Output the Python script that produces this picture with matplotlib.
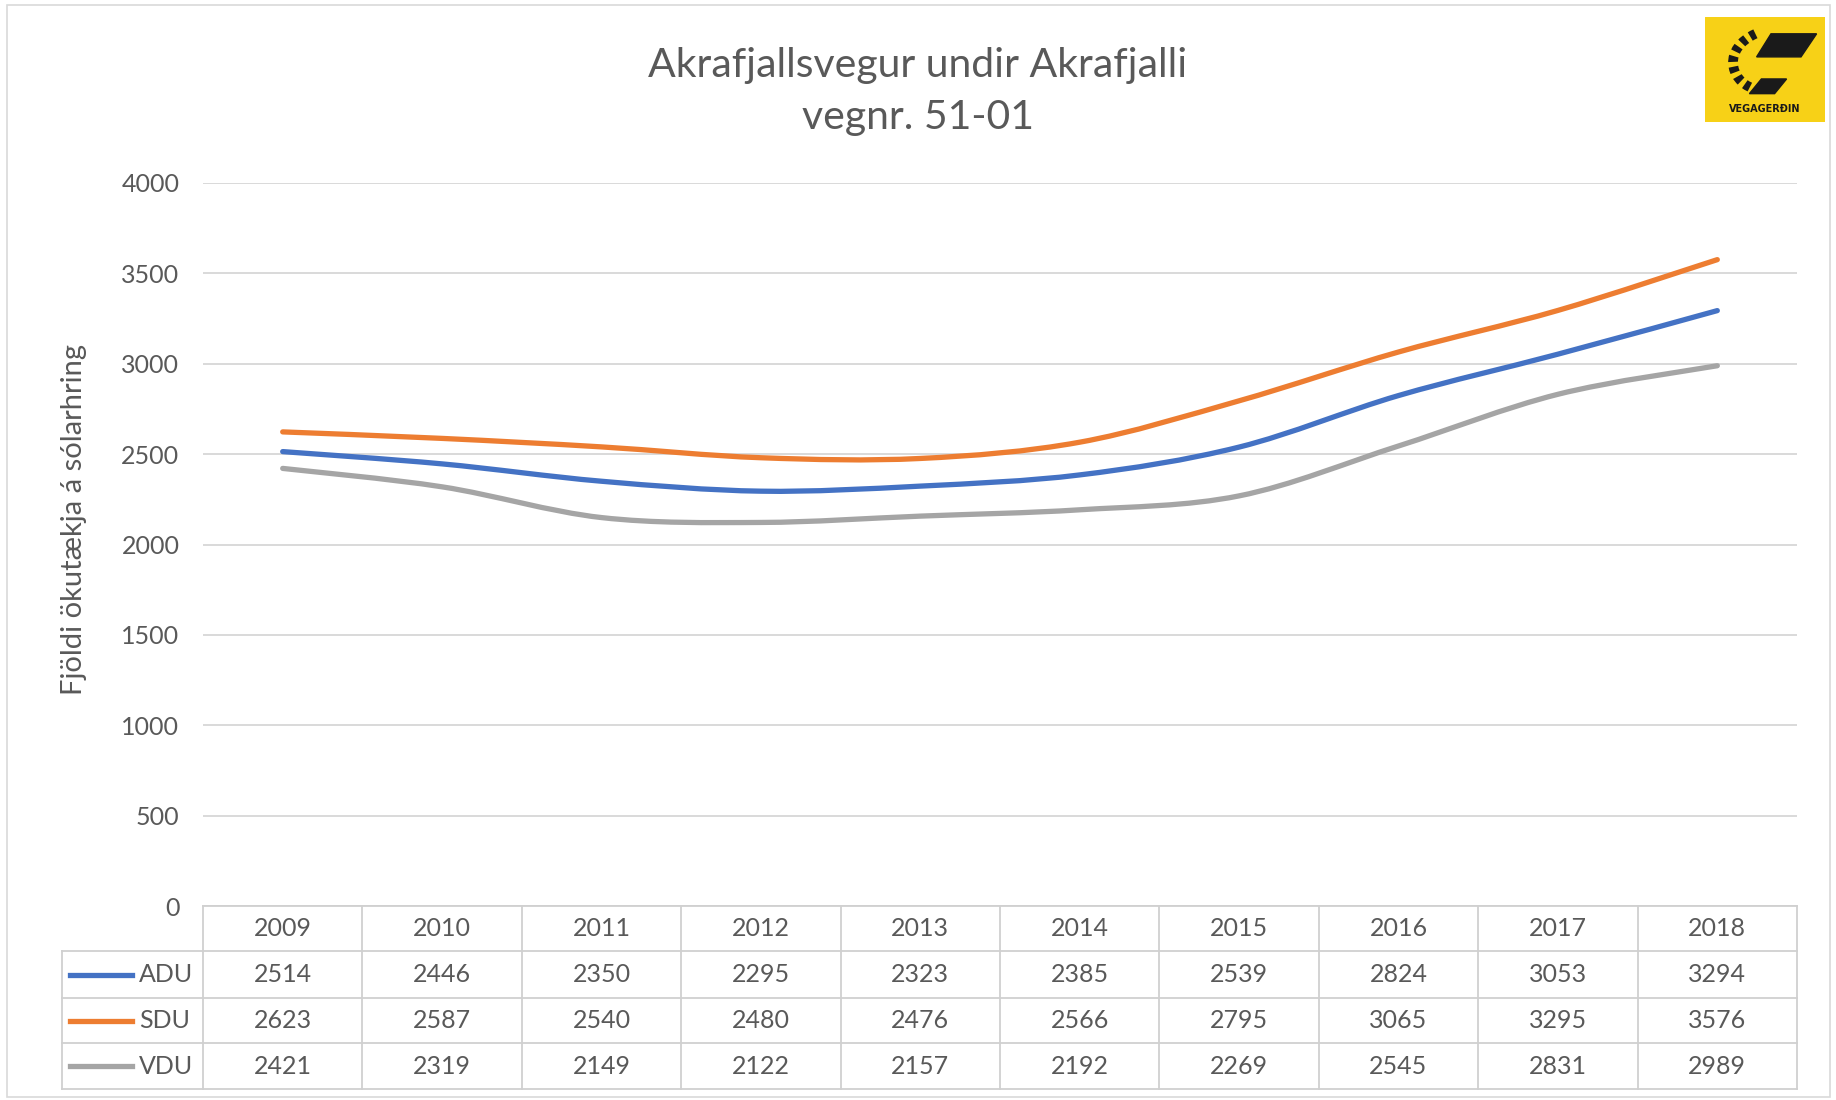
import matplotlib
matplotlib.use("Agg")
import matplotlib.pyplot as plt
from matplotlib.path import Path
from matplotlib.patches import PathPatch, Rectangle, Polygon
from matplotlib.lines import Line2D
from matplotlib.transforms import blended_transform_factory

# Gögn
years = ['2009', '2010', '2011', '2012', '2013', '2014', '2015', '2016', '2017', '2018']
adu = [2514, 2446, 2350, 2295, 2323, 2385, 2539, 2824, 3053, 3294]
sdu = [2623, 2587, 2540, 2480, 2476, 2566, 2795, 3065, 3295, 3576]
vdu = [2421, 2319, 2149, 2122, 2157, 2192, 2269, 2545, 2831, 2989]
series_names = ['ADU', 'SDU', 'VDU']
series_colors = ['#4472C4', '#ED7D31', '#A5A5A5']

W, H = 1836, 1100
txt = '#595959'
grid = '#D9D9D9'
fs = 18
plt.rcParams['font.family'] = ['Lato', 'DejaVu Sans']

def fx(px):
    return px / W

def fy(py):
    return 1 - py / H

def smooth_path(ys):
    # Excel-líkur mjúkur ferill (Catmull-Rom -> Bezier)
    pts = list(enumerate(ys))
    verts = [pts[0]]
    codes = [Path.MOVETO]
    n = len(pts)
    for i in range(n - 1):
        p0 = pts[max(i - 1, 0)]
        p1 = pts[i]
        p2 = pts[i + 1]
        p3 = pts[min(i + 2, n - 1)]
        c1 = (p1[0] + (p2[0] - p0[0]) / 6, p1[1] + (p2[1] - p0[1]) / 6)
        c2 = (p2[0] - (p3[0] - p1[0]) / 6, p2[1] - (p3[1] - p1[1]) / 6)
        verts += [c1, c2, p2]
        codes += [Path.CURVE4] * 3
    return Path(verts, codes)

fig = plt.figure(figsize=(W / 100, H / 100), dpi=100)
fig.patches.append(Rectangle((fx(7), fy(1097)), fx(1830) - fx(7), fy(5) - fy(1097),
                             transform=fig.transFigure, fill=False, ec=grid, lw=1.2))

left, right, top, bottom = 203, 1797, 183, 906
ax = fig.add_axes([fx(left), fy(bottom), fx(right) - fx(left), fy(top) - fy(bottom)])
ax.set_xlim(-0.5, len(years) - 0.5)
ax.set_ylim(0, 4000)
ax.set_yticks(range(0, 4001, 500))
ax.set_xticks([])
ax.tick_params(axis='y', length=0, pad=17, labelsize=fs, labelcolor=txt)
for s in ax.spines.values():
    s.set_visible(False)
ax.grid(axis='y', color=grid, lw=1.4)
ax.set_axisbelow(True)

for ys, c in zip([adu, sdu, vdu], series_colors):
    ax.add_patch(PathPatch(smooth_path(ys), fill=False, ec=c, lw=3.8, capstyle='round', zorder=3))

ax.set_ylabel('Fjöldi ökutækja á sólarhring', fontsize=21, color=txt)
ax.yaxis.set_label_coords(-0.073, 0.535)

fig.text(0.5, fy(65), 'Akrafjallsvegur undir Akrafjalli', ha='center', va='center',
         fontsize=29.5, color=txt)
fig.text(0.5, fy(118), 'vegnr. 51-01', ha='center', va='center', fontsize=29.5, color=txt)

# Tafla undir grafinu
tr = blended_transform_factory(ax.transData, fig.transFigure)
row_y = [906, 951, 998, 1043, 1089]
n = len(years)
lc = '#D0D0D0'
fig.add_artist(Line2D([-0.5, n - 0.5], [fy(row_y[0])] * 2, transform=tr, color=lc, lw=1.3))
for ry in row_y[1:]:
    fig.add_artist(Line2D([fx(62), fx(right)], [fy(ry)] * 2, transform=fig.transFigure, color=lc, lw=1.3))
for i in range(n + 1):
    fig.add_artist(Line2D([i - 0.5] * 2, [fy(row_y[0]), fy(row_y[-1])], transform=tr, color=lc, lw=1.3))
fig.add_artist(Line2D([fx(62)] * 2, [fy(row_y[1]), fy(row_y[-1])], transform=fig.transFigure, color=lc, lw=1.3))

for i, y in enumerate(years):
    fig.text(i, fy((row_y[0] + row_y[1]) / 2), y, transform=tr, ha='center', va='center',
             fontsize=fs, color=txt)
for r, (name, c, vals) in enumerate(zip(series_names, series_colors, [adu, sdu, vdu])):
    yc = fy((row_y[r + 1] + row_y[r + 2]) / 2)
    fig.add_artist(Line2D([fx(70), fx(132)], [yc, yc], transform=fig.transFigure, color=c, lw=3.8))
    fig.text(fx(139), yc, name, ha='left', va='center', fontsize=fs, color=txt)
    for i, v in enumerate(vals):
        fig.text(i, yc, str(v), transform=tr, ha='center', va='center', fontsize=fs, color=txt)

# Merki Vegagerðarinnar
lax = fig.add_axes([fx(1705), fy(122), fx(120), 105 / H])
lax.set_xlim(0, 1)
lax.set_ylim(0, 1)
lax.axis('off')
lax.add_patch(Rectangle((0, 0), 1, 1, color='#F7D117'))
lax.add_patch(Polygon([(0.55, 0.84), (0.93, 0.84), (0.80, 0.62), (0.43, 0.62)], color='#1a1a1a'))
lax.add_patch(Polygon([(0.47, 0.41), (0.68, 0.41), (0.58, 0.27), (0.37, 0.27)], color='#1a1a1a'))
arc = Path([(0.42, 0.84), (0.15, 0.70), (0.20, 0.40), (0.40, 0.32)],
           [Path.MOVETO, Path.CURVE4, Path.CURVE4, Path.CURVE4])
lax.add_patch(PathPatch(arc, fill=False, ec='#1a1a1a', lw=7, linestyle=(0, (0.6, 0.5))))
lax.text(0.5, 0.12, 'VEGAGERÐIN', ha='center', va='center', fontsize=7, fontweight='bold',
         color='#1a1a1a', family='DejaVu Sans')

fig.savefig('out.png', dpi=100)
